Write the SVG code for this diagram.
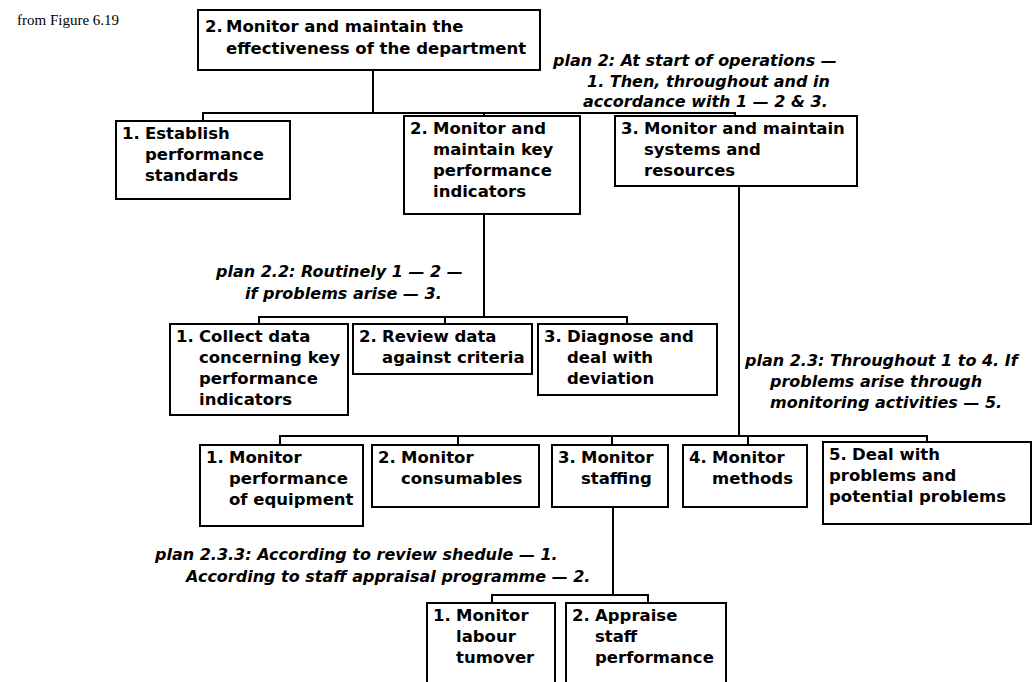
<svg xmlns="http://www.w3.org/2000/svg" width="1034" height="682" viewBox="0 0 1034 682">
  <style>
    .box { fill: #fff; stroke: #000; stroke-width: 2; }
    .t { font-family: 'DejaVu Sans', sans-serif; font-weight: bold; font-size: 16.5px; fill: #000; }
    .plan { font-family: 'DejaVu Sans', sans-serif; font-weight: bold; font-style: italic; font-size: 16px; fill: #000; }
    .src { font-family: 'Liberation Serif', serif; font-size: 15px; fill: #000; }
    .link { fill: none; stroke: #000; stroke-width: 2; }
  </style>
  <rect width="1034" height="682" fill="#fff"/>

  <text class="src" x="17" y="25">from Figure 6.19</text>

  <!-- plan annotations -->
  <g id="plans">
    <text class="plan"><tspan x="553" y="66">plan 2: At start of operations —</tspan><tspan x="587" y="86.5">1. Then, throughout and in</tspan><tspan x="583" y="107">accordance with 1 — 2 &amp; 3.</tspan></text>
    <text class="plan"><tspan x="216" y="277">plan 2.2: Routinely 1 — 2 —</tspan><tspan x="245" y="299">if problems arise — 3.</tspan></text>
    <text class="plan"><tspan x="745" y="366">plan 2.3: Throughout 1 to 4. If</tspan><tspan x="770" y="387">problems arise through</tspan><tspan x="770" y="408">monitoring activities — 5.</tspan></text>
    <text class="plan"><tspan x="155" y="560">plan 2.3.3: According to review shedule — 1.</tspan><tspan x="186" y="582">According to staff appraisal programme — 2.</tspan></text>
  </g>

  <!-- tree connectors -->
  <g id="connectors" class="link">
    <path d="M373 70 V113 M203 121 V113 H735 V116 M484 113 V116"/>
    <path d="M484 214 V317 M259 324 V317 H627 V324 M445 317 V324"/>
    <path d="M739 186 V436 M280 445 V436 H927 V442 M458 436 V445 M612 436 V445 M748 436 V445"/>
    <path d="M613 507 V595 M492 603 V595 H648 V603"/>
  </g>

  <!-- level 0 -->
  <g id="n2">
    <rect class="box" x="198" y="10" width="342" height="60"/>
    <text class="t"><tspan x="205" y="32">2.</tspan><tspan x="226" y="32">Monitor and maintain the</tspan><tspan x="226" y="54">effectiveness of the department</tspan></text>
  </g>

  <!-- level 1 -->
  <g id="n2-1">
    <rect class="box" x="116" y="121" width="174" height="78"/>
    <text class="t"><tspan x="122" y="139">1.</tspan><tspan x="145" y="139">Establish</tspan><tspan x="145" y="160">performance</tspan><tspan x="145" y="181">standards</tspan></text>
  </g>
  <g id="n2-2">
    <rect class="box" x="404" y="116" width="176" height="98"/>
    <text class="t"><tspan x="410" y="134">2.</tspan><tspan x="433" y="134">Monitor and</tspan><tspan x="433" y="155">maintain key</tspan><tspan x="433" y="176">performance</tspan><tspan x="433" y="197">indicators</tspan></text>
  </g>
  <g id="n2-3">
    <rect class="box" x="615" y="116" width="242" height="70"/>
    <text class="t"><tspan x="621" y="134">3.</tspan><tspan x="644" y="134">Monitor and maintain</tspan><tspan x="644" y="155">systems and</tspan><tspan x="644" y="176">resources</tspan></text>
  </g>

  <!-- level 2 under 2.2 -->
  <g id="n2-2-1">
    <rect class="box" x="170" y="324" width="178" height="91"/>
    <text class="t"><tspan x="176" y="342">1.</tspan><tspan x="199" y="342">Collect data</tspan><tspan x="199" y="363">concerning key</tspan><tspan x="199" y="384">performance</tspan><tspan x="199" y="405">indicators</tspan></text>
  </g>
  <g id="n2-2-2">
    <rect class="box" x="353" y="324" width="179" height="50"/>
    <text class="t"><tspan x="359" y="342">2.</tspan><tspan x="382" y="342">Review data</tspan><tspan x="382" y="363">against criteria</tspan></text>
  </g>
  <g id="n2-2-3">
    <rect class="box" x="538" y="324" width="179" height="71"/>
    <text class="t"><tspan x="544" y="342">3.</tspan><tspan x="567" y="342">Diagnose and</tspan><tspan x="567" y="363">deal with</tspan><tspan x="567" y="384">deviation</tspan></text>
  </g>

  <!-- level 2 under 2.3 -->
  <g id="n2-3-1">
    <rect class="box" x="200" y="445" width="163" height="81"/>
    <text class="t"><tspan x="206" y="463">1.</tspan><tspan x="229" y="463">Monitor</tspan><tspan x="229" y="484">performance</tspan><tspan x="229" y="505">of equipment</tspan></text>
  </g>
  <g id="n2-3-2">
    <rect class="box" x="372" y="445" width="167" height="62"/>
    <text class="t"><tspan x="378" y="463">2.</tspan><tspan x="401" y="463">Monitor</tspan><tspan x="401" y="484">consumables</tspan></text>
  </g>
  <g id="n2-3-3">
    <rect class="box" x="552" y="445" width="116" height="62"/>
    <text class="t"><tspan x="558" y="463">3.</tspan><tspan x="581" y="463">Monitor</tspan><tspan x="581" y="484">staffing</tspan></text>
  </g>
  <g id="n2-3-4">
    <rect class="box" x="683" y="445" width="124" height="62"/>
    <text class="t"><tspan x="689" y="463">4.</tspan><tspan x="712" y="463">Monitor</tspan><tspan x="712" y="484">methods</tspan></text>
  </g>
  <g id="n2-3-5">
    <rect class="box" x="823" y="442" width="208" height="82"/>
    <text class="t"><tspan x="829" y="460">5.</tspan><tspan x="852" y="460">Deal with</tspan><tspan x="829" y="481">problems and</tspan><tspan x="829" y="502">potential problems</tspan></text>
  </g>

  <!-- level 3 under 2.3.3 -->
  <g id="n2-3-3-1">
    <rect class="box" x="427" y="603" width="128" height="90"/>
    <text class="t"><tspan x="433" y="621">1.</tspan><tspan x="456" y="621">Monitor</tspan><tspan x="456" y="642">labour</tspan><tspan x="456" y="663">tumover</tspan></text>
  </g>
  <g id="n2-3-3-2">
    <rect class="box" x="566" y="603" width="160" height="90"/>
    <text class="t"><tspan x="572" y="621">2.</tspan><tspan x="595" y="621">Appraise</tspan><tspan x="595" y="642">staff</tspan><tspan x="595" y="663">performance</tspan></text>
  </g>
</svg>
